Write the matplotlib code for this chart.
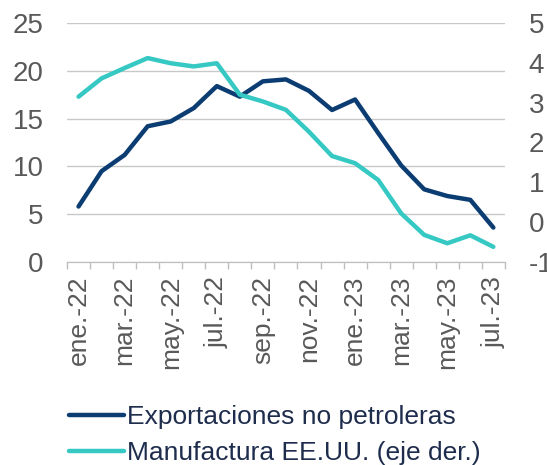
import numpy as np
import matplotlib.pyplot as plt

plt.rcParams['font.family'] = ['Liberation Sans', 'DejaVu Sans']
plt.rcParams['axes.unicode_minus'] = False

months = ['ene.-22', 'feb.-22', 'mar.-22', 'abr.-22', 'may.-22', 'jun.-22', 'jul.-22',
          'ago.-22', 'sep.-22', 'oct.-22', 'nov.-22', 'dic.-22', 'ene.-23', 'feb.-23',
          'mar.-23', 'abr.-23', 'may.-23', 'jun.-23', 'jul.-23']
exportaciones = [5.8, 9.5, 11.2, 14.2, 14.7, 16.1, 18.4, 17.3, 18.9, 19.1,
                 17.9, 15.9, 17.0, 13.5, 10.1, 7.6, 6.9, 6.5, 3.6]
manufactura = [3.15, 3.61, 3.87, 4.12, 3.99, 3.91, 3.99, 3.20, 3.03, 2.82,
               2.27, 1.66, 1.48, 1.06, 0.22, -0.32, -0.53, -0.33, -0.62]

navy = '#0b3d73'
teal = '#36c8c3'
gray = '#595959'

x = np.arange(len(months))

fig = plt.figure(figsize=(5.47, 4.65), dpi=100)
ax = fig.add_axes([0.1225, 0.4366, 0.8005, 0.5139])
ax2 = ax.twinx()

l1, = ax.plot(x, exportaciones, color=navy, lw=3.2, solid_capstyle='round',
              label='Exportaciones no petroleras')
l2, = ax2.plot(x, manufactura, color=teal, lw=3.2, solid_capstyle='round',
               label='Manufactura EE.UU. (eje der.)')

ax.set_xlim(-0.5, len(months) - 0.5)
ax.set_ylim(0, 25)
ax2.set_ylim(-1, 5)
ax.set_yticks(range(0, 26, 5))
ax2.set_yticks(range(-1, 6))

ax.set_xticks(x[::2])
ax.set_xticklabels(months[::2], rotation=90)
ax.set_xticks(np.arange(-0.5, len(months), 1), minor=True)
ax.tick_params(axis='x', which='major', length=0, pad=10)
ax.tick_params(axis='x', which='minor', length=5, color='#bfbfbf', width=1)

ax.grid(axis='y', color='#c8c8c8', lw=1)
ax.set_axisbelow(True)
for a in (ax, ax2):
    for s in ['top', 'left', 'right']:
        a.spines[s].set_visible(False)
    a.spines['bottom'].set_color('#bfbfbf')
    a.tick_params(axis='y', length=0, labelsize=20, colors=gray)
ax.tick_params(axis='x', labelsize=19, colors=gray)
ax.tick_params(axis='y', pad=17)
ax2.tick_params(axis='y', pad=17)

leg = fig.legend(handles=[l1, l2], loc='lower left', bbox_to_anchor=(0.092, -0.04),
                 frameon=False, fontsize=19, handlelength=2.1, handletextpad=0.1,
                 labelspacing=0.45, borderpad=0.2)
for t in leg.get_texts():
    t.set_color('#1f2d4d')

fig.savefig('out.png', dpi=100)
